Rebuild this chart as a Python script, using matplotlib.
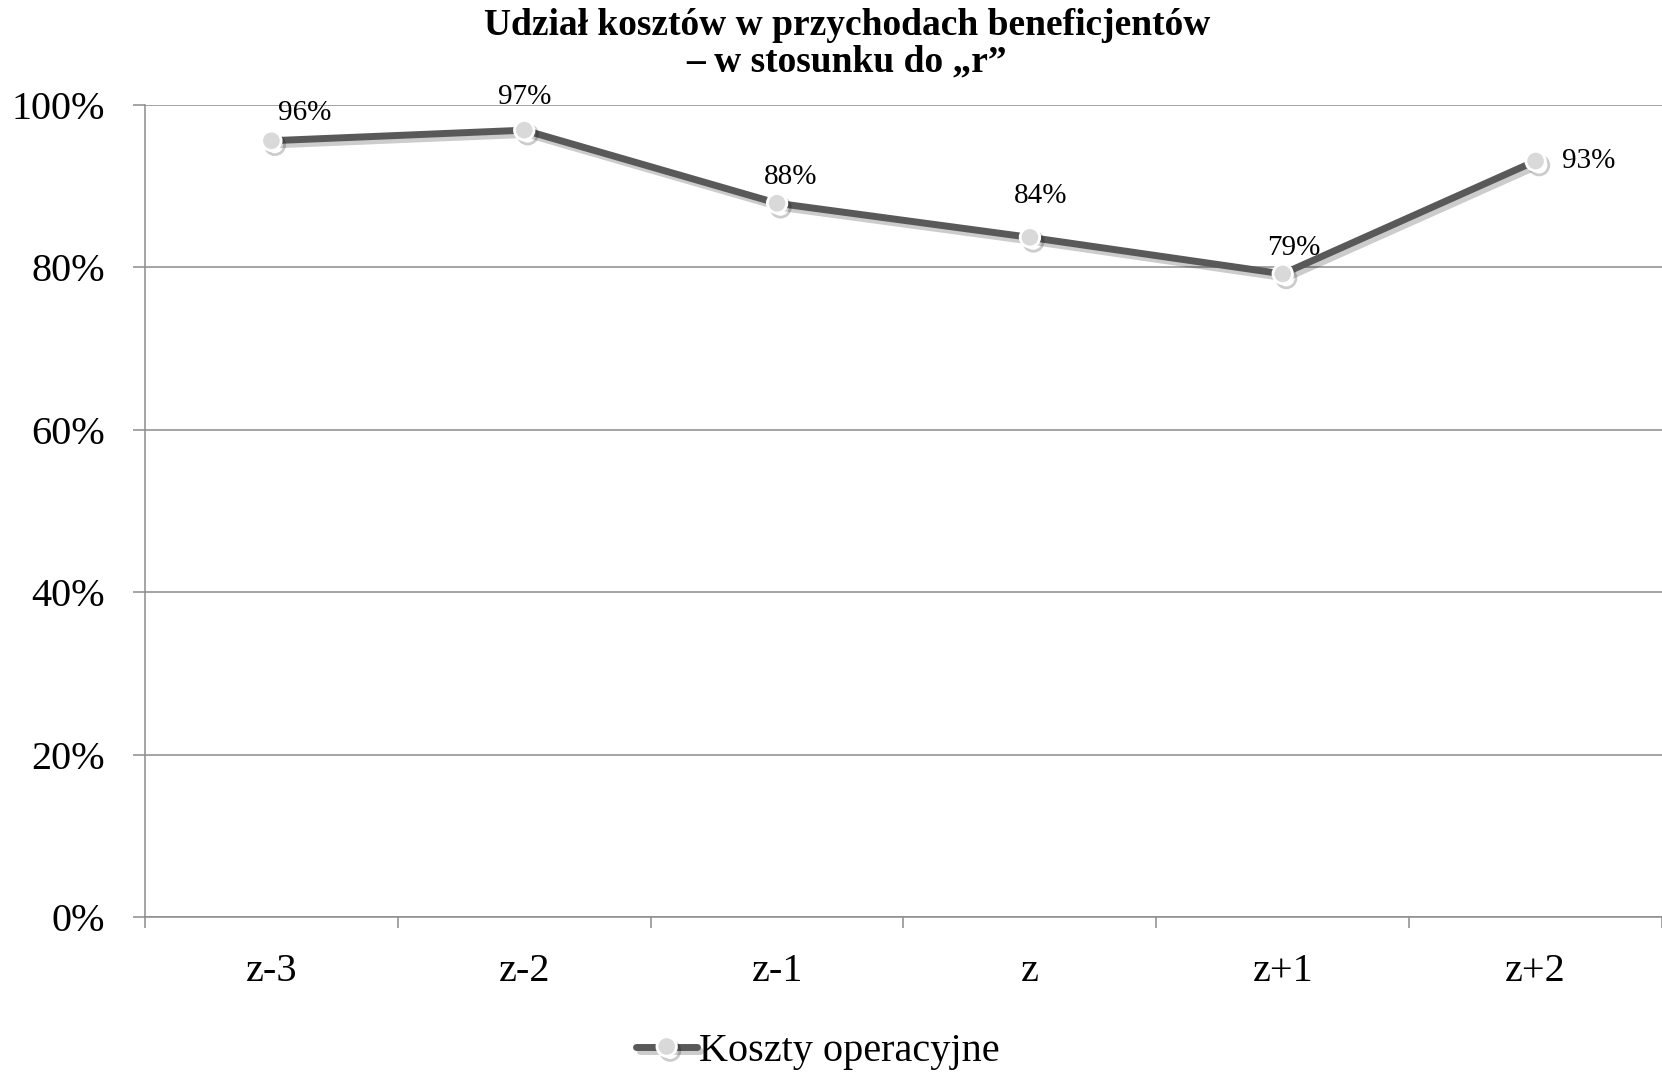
import matplotlib
matplotlib.use("Agg")
import matplotlib.pyplot as plt
import matplotlib.patheffects as pe
from matplotlib.ticker import FixedLocator, FuncFormatter

categories = ["z-3", "z-2", "z-1", "z", "z+1", "z+2"]
values = [95.6, 96.9, 87.9, 83.7, 79.2, 93.1]
labels = ["96%", "97%", "88%", "84%", "79%", "93%"]
label_offsets = [(24, 20), (0, 24), (10, 19), (8, 30), (8, 19), (38, 0)]
series_name = "Koszty operacyjne"
title = "Udział kosztów w przychodach beneficjentów\n– w stosunku do „r”"

plt.rcParams["font.family"] = ["Liberation Serif", "DejaVu Serif"]

fig = plt.figure(figsize=(16.62, 10.72), dpi=100)
ax = fig.add_axes([145 / 1662, 1 - 917 / 1072, 1 - 145 / 1662, (917 - 105) / 1072])

grid_c = "#8c8c8c"
x = list(range(len(categories)))
line, = ax.plot(x, values, color="#595959", lw=5, marker="o", markersize=14,
                markerfacecolor="#d9d9d9", markeredgecolor="white", markeredgewidth=2,
                solid_capstyle="round", zorder=3, label=series_name,
                path_effects=[pe.SimpleLineShadow(offset=(2.5, -3), shadow_color="black", alpha=0.2),
                              pe.Normal()])

for xi, v, lab, off in zip(x, values, labels, label_offsets):
    ax.annotate(lab, (xi, v), xytext=off, textcoords="offset points",
                ha="center", va="center", fontsize=21, color="black", zorder=4)

ax.set_xlim(-0.5, len(categories) - 0.5)
ax.set_ylim(0, 100)
ax.yaxis.set_major_locator(FixedLocator([0, 20, 40, 60, 80, 100]))
ax.yaxis.set_major_formatter(FuncFormatter(lambda v, p: f"{int(v)}%"))
ax.grid(axis="y", color=grid_c, lw=1.1)
ax.set_axisbelow(True)

ax.set_xticks([i - 0.5 for i in range(len(categories) + 1)])
ax.set_xticklabels([])
ax.set_xticks(x, minor=True)
ax.set_xticklabels(categories, minor=True)
ax.tick_params(axis="x", which="major", length=8, width=1.1, color=grid_c, direction="out")
ax.tick_params(axis="x", which="minor", length=0, pad=26, labelsize=29)
ax.tick_params(axis="y", length=9, width=1.1, color=grid_c, pad=20, labelsize=29)

for s in ["top", "right"]:
    ax.spines[s].set_visible(False)
ax.spines["left"].set_color(grid_c)
ax.spines["bottom"].set_color(grid_c)
ax.spines["left"].set_linewidth(1.1)
ax.spines["bottom"].set_linewidth(1.1)

fig.text(847 / 1662, 1 - 44 / 1072, title, ha="center", va="center",
         fontsize=27, fontweight="bold", linespacing=1.05)

fig.legend(handles=[line], loc="center", bbox_to_anchor=(818 / 1662, 1 - 1051 / 1072),
           frameon=False, fontsize=29, handlelength=1.5, handletextpad=0.05,
           borderpad=0, borderaxespad=0)

fig.savefig("out.png", dpi=100)
